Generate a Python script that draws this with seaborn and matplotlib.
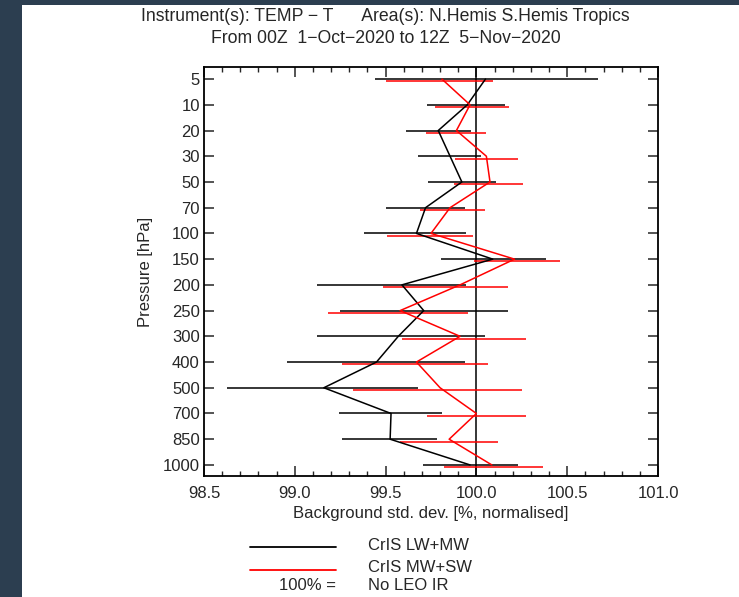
#!/usr/bin/env python3
# Background std. dev. profile plot (TEMP - T), CrIS LW+MW vs CrIS MW+SW
import pandas as pd
import seaborn as sns
import matplotlib.pyplot as plt
from matplotlib.lines import Line2D
from matplotlib.patches import Rectangle
from matplotlib.ticker import MultipleLocator

# data
levels = ['5', '10', '20', '30', '50', '70', '100', '150', '200',
          '250', '300', '400', '500', '700', '850', '1000']

lwmw_mid = [100.05, 99.95, 99.79, 99.855, 99.92, 99.72, 99.67, 100.09, 99.59,
            99.71, 99.57, 99.45, 99.16, 99.53, 99.525, 99.965]
lwmw_lo = [99.44, 99.73, 99.61, 99.68, 99.735, 99.50, 99.38, 99.805, 99.12,
           99.25, 99.12, 98.955, 98.625, 99.245, 99.26, 99.705]
lwmw_hi = [100.67, 100.155, 99.97, 100.025, 100.11, 99.935, 99.945, 100.385, 99.945,
           100.175, 100.045, 99.935, 99.68, 99.81, 99.785, 100.23]

mwsw_mid = [99.81, 99.965, 99.89, 100.055, 100.075, 99.855, 99.75, 100.21, 99.91,
            99.58, 99.91, 99.67, 99.80, 100.0, 99.85, 100.085]
mwsw_lo = [99.505, 99.77, 99.72, 99.88, 99.875, 99.69, 99.51, 99.985, 99.485,
           99.185, 99.59, 99.26, 99.32, 99.73, 99.58, 99.82]
mwsw_hi = [100.09, 100.18, 100.055, 100.23, 100.255, 100.045, 99.98, 100.46, 100.175,
           99.955, 100.275, 100.065, 100.25, 100.275, 100.12, 100.365]

series_names = ['CrIS LW+MW', 'CrIS MW+SW']
series_colors = ['black', 'red']

pos = list(range(len(levels)))
df = pd.concat([
    pd.DataFrame({'pos': pos, 'value': lwmw_mid, 'lo': lwmw_lo, 'hi': lwmw_hi,
                  'series': series_names[0]}),
    pd.DataFrame({'pos': pos, 'value': mwsw_mid, 'lo': mwsw_lo, 'hi': mwsw_hi,
                  'series': series_names[1]}),
])

sns.set_style('ticks')
plt.rcParams['font.family'] = ['Liberation Sans', 'DejaVu Sans']

fig = plt.figure(figsize=(7.39, 5.97), dpi=100, facecolor='white')
ax = fig.add_axes([0.276, 0.2027, 0.6144, 0.6851])

# dark frame strips of the screenshot
fig.patches.append(Rectangle((0, 0), 22 / 739, 1, transform=fig.transFigure,
                             facecolor='#2c3e50', edgecolor='none', zorder=-1))
fig.patches.append(Rectangle((0, 1 - 5 / 597), 1, 5 / 597, transform=fig.transFigure,
                             facecolor='#2c3e50', edgecolor='none', zorder=-1))

# error bars (red ones sit a touch lower)
offsets = [0.0, 0.09]
for name, col, off in zip(series_names, series_colors, offsets):
    d = df[df['series'] == name]
    ax.hlines(d['pos'] + off, d['lo'], d['hi'], color=col, lw=1.1, zorder=3)

sns.lineplot(data=df, x='value', y='pos', hue='series', palette=series_colors,
             hue_order=series_names, estimator=None, sort=False, orient='y',
             lw=1.1, legend=False, ax=ax, zorder=4)

ax.axvline(100.0, color='black', lw=1.1, zorder=2)

ax.set_xlim(98.5, 101.0)
ax.set_ylim(15.43, -0.47)
ax.set_yticks(pos)
ax.set_yticklabels(levels)
ax.xaxis.set_major_locator(MultipleLocator(0.5))
ax.xaxis.set_minor_locator(MultipleLocator(0.1))
ax.xaxis.set_major_formatter(plt.FormatStrFormatter('%.1f'))

ax.tick_params(axis='x', which='major', direction='in', length=7, width=1.1,
               top=True, bottom=True, labelsize=12, pad=7)
ax.tick_params(axis='x', which='minor', direction='in', length=3.5, width=1.0,
               top=True, bottom=True)
ax.tick_params(axis='y', which='major', direction='in', length=7, width=1.1,
               left=True, right=True, labelsize=12, pad=3)
for s in ax.spines.values():
    s.set_linewidth(1.3)
    s.set_color('black')

ax.set_xlabel('Background std. dev. [%, normalised]', fontsize=12, labelpad=3.5)
ax.set_ylabel('Pressure [hPa]', fontsize=12, labelpad=7)

# titles
fig.text(0.5217, 0.973, 'Instrument(s): TEMP \u2212 T      Area(s): N.Hemis S.Hemis Tropics',
         ha='center', va='center', fontsize=12.7)
fig.text(0.5217, 0.935, 'From 00Z  1\u2212Oct\u22122020 to 12Z  5\u2212Nov\u22122020',
         ha='center', va='center', fontsize=12.7)

# legend below the plot
leg_y = [1 - 547 / 597, 1 - 570 / 597]
txt_y = [1 - 545 / 597, 1 - 567 / 597]
for name, col, yy, ty in zip(series_names, series_colors, leg_y, txt_y):
    fig.add_artist(Line2D([250 / 739, 336 / 739], [yy, yy], color=col, lw=1.3,
                          transform=fig.transFigure))
    fig.text(368 / 739, ty, name, ha='left', va='center', fontsize=12)
fig.text(336 / 739, 1 - 586 / 597, '100% =', ha='right', va='center', fontsize=12)
fig.text(368 / 739, 1 - 586 / 597, 'No LEO IR', ha='left', va='center', fontsize=12)

fig.savefig('out.png', dpi=100, facecolor='white')
